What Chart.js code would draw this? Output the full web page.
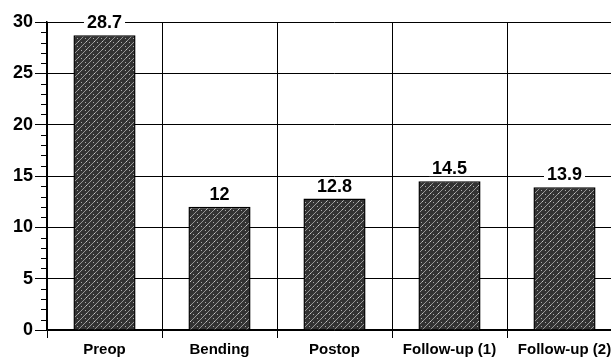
<!DOCTYPE html>
<html>
<head>
<meta charset="utf-8">
<script src="https://cdn.jsdelivr.net/npm/chart.js@4"></script>
<style>
  html, body { margin: 0; padding: 0; background: #fff; overflow: hidden; }
  #wrap { width: 611px; height: 360px; overflow: hidden; }
  #wrap div { width: 640px; height: 360px; }
</style>
</head>
<body>
<div id="wrap"><div><canvas id="chart"></canvas></div></div>
<script>
// values
const categories = ['Preop', 'Bending', 'Postop', 'Follow-up (1)', 'Follow-up (2)'];
const values = [28.7, 12, 12.8, 14.5, 13.9];
const yTicks = [0, 5, 10, 15, 20, 25, 30];

// dark speckled / hatched fill like the printed bars
function barPattern() {
  const c = document.createElement('canvas');
  c.width = 8; c.height = 8;
  const g = c.getContext('2d');
  g.fillStyle = '#333';
  g.fillRect(0, 0, 8, 8);
  g.strokeStyle = 'rgba(185,185,185,0.75)';
  g.lineWidth = 1;
  g.beginPath();
  g.moveTo(0, 8); g.lineTo(8, 0);
  g.stroke();
  g.fillStyle = 'rgba(220,220,220,0.7)';
  g.fillRect(1, 2, 1, 1);
  g.fillRect(5, 6, 1, 1);
  g.fillRect(6, 1, 1, 1);
  return g.createPattern(c, 'repeat');
}

// small unit ticks on the y axis
const minorTicks = {
  id: 'minorTicks',
  afterDraw(chart) {
    const y = chart.scales.y, ctx = chart.ctx, left = chart.chartArea.left;
    ctx.save();
    ctx.strokeStyle = '#000';
    ctx.lineWidth = 1;
    for (let v = 0; v <= 30; v++) {
      if (v % 5 === 0) continue;
      const py = Math.round(y.getPixelForValue(v)) + 0.5;
      ctx.beginPath();
      ctx.moveTo(left - 6, py);
      ctx.lineTo(left, py);
      ctx.stroke();
    }
    ctx.restore();
  }
};

// value above each bar, white box knocks out the grid line behind it
const valueLabels = {
  id: 'valueLabels',
  afterDatasetsDraw(chart) {
    const ctx = chart.ctx;
    const meta = chart.getDatasetMeta(0);
    ctx.save();
    ctx.font = 'bold 18px "Liberation Sans", Arial, sans-serif';
    ctx.textAlign = 'center';
    ctx.textBaseline = 'middle';
    meta.data.forEach((bar, i) => {
      const txt = String(values[i]);
      const w = ctx.measureText(txt).width;
      const cy = bar.y - 13;
      ctx.fillStyle = '#fff';
      ctx.fillRect(bar.x - w / 2 - 3, cy - 8, w + 6, 16);
      ctx.fillStyle = '#000';
      ctx.fillText(txt, bar.x, cy + 1);
    });
    ctx.restore();
  }
};

new Chart(document.getElementById('chart'), {
  type: 'bar',
  data: {
    labels: categories,
    datasets: [{
      data: values,
      backgroundColor: barPattern(),
      borderColor: '#000',
      borderWidth: 1.5,
      categoryPercentage: 1,
      barPercentage: 0.54
    }]
  },
  options: {
    responsive: true,
    maintainAspectRatio: false,
    animation: false,
    events: [],
    layout: { padding: { top: 22, right: 18, left: 0, bottom: 0 } },
    plugins: { legend: { display: false }, tooltip: { enabled: false } },
    scales: {
      x: {
        grid: { color: c => (c.type === 'tick' ? '#000' : 'rgba(0,0,0,0)'), lineWidth: 1, offset: true, tickLength: 8 },
        border: { color: '#000', width: 1.5 },
        ticks: {
          color: '#000',
          padding: 3,
          maxRotation: 0,
          font: { family: '"Liberation Sans", Arial, sans-serif', size: 15, weight: 'bold' }
        },
        afterFit(s) { s.height = 30; }
      },
      y: {
        min: 0, max: 30,
        afterBuildTicks(s) { s.ticks = yTicks.map(v => ({ value: v })); },
        grid: { color: '#000', lineWidth: 1, tickLength: 12 },
        border: { color: '#000', width: 1.5 },
        ticks: {
          color: '#000',
          padding: 2,
          font: { family: '"Liberation Sans", Arial, sans-serif', size: 18, weight: 'bold' }
        },
        afterFit(s) { s.width = 47; }
      }
    }
  },
  plugins: [minorTicks, valueLabels]
});
</script>
</body>
</html>
